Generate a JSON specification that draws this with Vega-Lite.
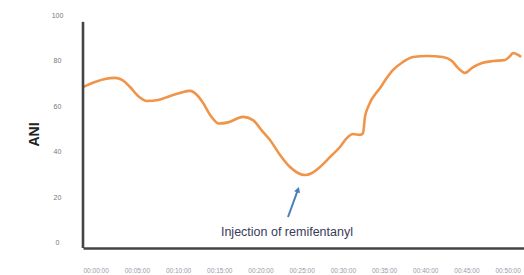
{
  "$schema": "https://vega.github.io/schema/vega-lite/v6.json",
  "width": 441,
  "height": 233,
  "autosize": "none",
  "padding": {"left": 83, "top": 15, "right": 0, "bottom": 27},
  "background": "white",
  "config": {"view": {"stroke": null}, "font": "Liberation Sans"},
  "datasets": {
    "ani": [
      {"t": 0, "v": 68.4}, {"t": 1.46, "v": 70.6}, {"t": 2.67, "v": 71.9}, {"t": 3.88, "v": 72.4},
      {"t": 4.74, "v": 71.5}, {"t": 5.71, "v": 68.4}, {"t": 6.68, "v": 64.5}, {"t": 7.77, "v": 62.3},
      {"t": 9.1, "v": 62.7}, {"t": 10.56, "v": 64.5}, {"t": 11.77, "v": 65.8}, {"t": 12.99, "v": 66.7},
      {"t": 13.83, "v": 64.9}, {"t": 14.56, "v": 61.5}, {"t": 15.5, "v": 55.8}, {"t": 16.5, "v": 52.4},
      {"t": 17.6, "v": 52.9}, {"t": 19.42, "v": 55.3}, {"t": 20.63, "v": 53.9}, {"t": 21.84, "v": 48.7},
      {"t": 22.69, "v": 45.2}, {"t": 23.91, "v": 38.6}, {"t": 25.12, "v": 33.3},
      {"t": 26.09, "v": 30.7}, {"t": 26.95, "v": 29.8}, {"t": 27.79, "v": 30.7}, {"t": 28.76, "v": 33.3},
      {"t": 29.98, "v": 37.7}, {"t": 31.19, "v": 42.1}, {"t": 32.04, "v": 46.1}, {"t": 32.77, "v": 47.8},
      {"t": 33.62, "v": 47.4}, {"t": 33.98, "v": 48.2}, {"t": 34.22, "v": 55.3}, {"t": 34.59, "v": 59.6},
      {"t": 36.05, "v": 68.0}, {"t": 37.63, "v": 75.9}, {"t": 38.83, "v": 79.4}, {"t": 40.05, "v": 81.6},
      {"t": 41.74, "v": 82.0}, {"t": 43.69, "v": 81.6}, {"t": 44.78, "v": 79.8}, {"t": 45.51, "v": 76.8},
      {"t": 46.36, "v": 74.6}, {"t": 47.21, "v": 76.8}, {"t": 48.42, "v": 78.9}, {"t": 49.76, "v": 79.8},
      {"t": 51.22, "v": 80.3}, {"t": 51.83, "v": 82.0}, {"t": 52.19, "v": 83.3}, {"t": 52.8, "v": 82.5},
      {"t": 53.16, "v": 81.6}
    ],
    "note": [
      {"label": "Injection of remifentanyl", "t": 24.75, "v": 4.8, "t0": 24.88, "v0": 11.4, "t1": 26.09, "v1": 23.4}
    ]
  },
  "layer": [
    {
      "data": {"name": "ani"},
      "mark": {"type": "line", "color": "#f0944a", "strokeWidth": 2.6, "interpolate": "monotone"},
      "encoding": {
        "x": {
          "field": "t", "type": "quantitative",
          "scale": {"domain": [0, 53.52], "nice": false, "zero": false},
          "axis": {
            "title": null,
            "values": [0, 5, 10, 15, 20, 25, 30, 35, 40, 45, 50],
            "labelExpr": "'00:' + (datum.value < 10 ? '0' : '') + datum.value + ':00'",
            "ticks": false, "grid": false,
            "domainColor": "#444444", "domainWidth": 2.6,
            "labelAlign": "left", "labelDx": 7, "labelBaseline": "middle", "labelPadding": 22,
            "labelFontSize": 6.5, "labelColor": "#9a9aa8", "labelOverlap": false
          }
        },
        "y": {
          "field": "v", "type": "quantitative",
          "scale": {"domain": [-2.2, 100], "nice": false, "zero": false},
          "axis": {
            "title": "ANI", "titleFontSize": 14, "titleFontWeight": "bold", "titleColor": "#222222",
            "titleAngle": -90, "titleX": -49, "titleY": 119, "titleAlign": "center", "titleBaseline": "middle",
            "values": [0, 20, 40, 60, 80, 100],
            "ticks": false, "grid": false, "domain": false,
            "labelAlign": "center", "labelPadding": 26, "labelFontSize": 7, "labelColor": "#777777"
          }
        }
      }
    },
    {
      "data": {"values": [{}]},
      "mark": {"type": "rule", "color": "#444444", "strokeWidth": 2.6},
      "encoding": {
        "x": {"datum": 0, "type": "quantitative"},
        "y": {"datum": -2.2, "type": "quantitative"},
        "y2": {"datum": 97}
      }
    },
    {
      "data": {"name": "note"},
      "mark": {"type": "rule", "color": "#4a7ebb", "strokeWidth": 2},
      "encoding": {
        "x": {"field": "t0", "type": "quantitative"},
        "y": {"field": "v0", "type": "quantitative"},
        "x2": {"field": "t1"},
        "y2": {"field": "v1"}
      }
    },
    {
      "data": {"name": "note"},
      "mark": {"type": "point", "shape": "triangle-up", "filled": true, "color": "#4a7ebb", "size": 40, "angle": 20, "opacity": 1},
      "encoding": {
        "x": {"field": "t1", "type": "quantitative"},
        "y": {"field": "v1", "type": "quantitative"}
      }
    },
    {
      "data": {"name": "note"},
      "mark": {"type": "text", "fontSize": 12.5, "color": "#3a3a5a", "align": "center", "baseline": "middle"},
      "encoding": {
        "x": {"field": "t", "type": "quantitative"},
        "y": {"field": "v", "type": "quantitative"},
        "text": {"field": "label"}
      }
    }
  ]
}
